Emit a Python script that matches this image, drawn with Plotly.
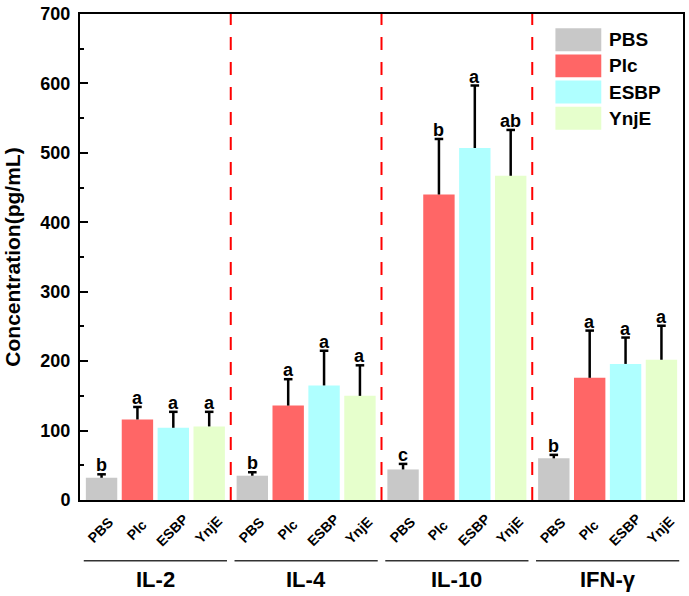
import plotly.graph_objects as go

groups = ["IL-2", "IL-4", "IL-10", "IFN-γ"]
series = ["PBS", "Plc", "ESBP", "YnjE"]
colors = ["#C8C8C8", "#FF6666", "#AFFFFF", "#E6FFCC"]

pbs = [32, 35, 44, 60]
plc = [116, 136, 440, 176]
esbp = [104, 165, 507, 196]
ynje = [106, 150, 467, 202]

pbs_err = [5, 5, 8, 5]
plc_err = [18, 38, 80, 68]
esbp_err = [23, 50, 90, 38]
ynje_err = [21, 44, 66, 49]

pbs_sig = ["b", "b", "c", "b"]
plc_sig = ["a", "a", "b", "a"]
esbp_sig = ["a", "a", "a", "a"]
ynje_sig = ["a", "a", "ab", "a"]

values = [pbs, plc, esbp, ynje]
errors = [pbs_err, plc_err, esbp_err, ynje_err]
sigs = [pbs_sig, plc_sig, esbp_sig, ynje_sig]

FONT = "Arial, 'Liberation Sans', sans-serif"
BARGAP = 0.048
BARGROUPGAP = 0.125
slot = (1 - BARGAP) / len(series)

# pixel geometry of the plot area
W, H = 689, 596
ML, MR, MT, MB = 80, 4, 13, 96
PW = W - ML - MR
PH = H - MT - MB
X_RANGE = [-0.5, 3.5]
CAP = 4.3 * (X_RANGE[1] - X_RANGE[0]) / PW  # half cap width in data units


def px_x(px):
    return (px - ML) / PW


def px_y(py):
    return (H - MB - py) / PH


gx = list(range(len(groups)))

fig = go.Figure()
for j, name in enumerate(series):
    fig.add_trace(go.Bar(
        x=gx, y=values[j], name=name,
        marker=dict(color=colors[j], line=dict(width=0)),
        showlegend=False,
    ))

# upper-only error bars (T shaped)
ex, ey = [], []
for j in range(len(series)):
    for g in gx:
        xc = g + (j - 1.5) * slot
        top = values[j][g] + errors[j][g]
        ex += [xc, xc, None, xc - CAP, xc + CAP, None]
        ey += [values[j][g], top, None, top, top, None]
fig.add_trace(go.Scatter(x=ex, y=ey, mode="lines", line=dict(color="black", width=2.5),
                         hoverinfo="skip", showlegend=False, cliponaxis=False))

annotations = []
shapes = []
for j, name in enumerate(series):
    for g in gx:
        xc = g + (j - 1.5) * slot
        annotations.append(dict(
            x=xc, y=values[j][g] + errors[j][g], xref="x", yref="y",
            text=f"<b>{sigs[j][g]}</b>", showarrow=False, yanchor="bottom",
            yshift=-3, font=dict(family=FONT, size=18, color="black")))
        annotations.append(dict(
            x=xc, y=px_y(530), xref="x", yref="paper", xshift=-1,
            text=f"<b>{name}</b>", showarrow=False, textangle=-45,
            xanchor="center", yanchor="middle",
            font=dict(family=FONT, size=14, color="black")))

for g, gname in enumerate(groups):
    shapes.append(dict(type="line", xref="x", yref="paper",
                       x0=g - 0.475, x1=g + 0.475, y0=px_y(561), y1=px_y(561),
                       line=dict(color="#333333", width=1.5)))
    annotations.append(dict(x=g, y=px_y(580), xref="x", yref="paper",
                            text=f"<b>{gname}</b>", showarrow=False,
                            xanchor="center", yanchor="middle",
                            font=dict(family=FONT, size=22, color="black")))

for g in gx[:-1]:
    shapes.append(dict(type="line", xref="x", yref="y", x0=g + 0.5, x1=g + 0.5,
                       y0=0, y1=700, line=dict(color="#FF0000", width=2, dash="13px,12px")))

# manual legend
for j, name in enumerate(series):
    top = 27.3 + j * 26.2
    shapes.append(dict(type="rect", xref="paper", yref="paper",
                       x0=px_x(557), x1=px_x(603), y0=px_y(top + 23), y1=px_y(top),
                       fillcolor=colors[j], line=dict(width=0)))
    annotations.append(dict(x=px_x(609), y=px_y(top + 11.5), xref="paper", yref="paper",
                            text=f"<b>{name}</b>", showarrow=False, xanchor="left",
                            yanchor="middle", font=dict(family=FONT, size=19, color="black")))

fig.update_layout(
    width=W, height=H,
    margin=dict(l=ML, r=MR, t=MT, b=MB, pad=0),
    paper_bgcolor="white", plot_bgcolor="white",
    barmode="group", bargap=BARGAP, bargroupgap=BARGROUPGAP,
    annotations=annotations, shapes=shapes,
    font=dict(family=FONT, color="black"),
    xaxis=dict(range=X_RANGE, showticklabels=False, ticks="", showgrid=False,
               zeroline=False, showline=True, linecolor="black", linewidth=2, mirror=True),
    yaxis=dict(range=[0, 700], dtick=100, ticks="inside", ticklen=8, tickwidth=2,
               tickcolor="black", showgrid=False, zeroline=False,
               showline=True, linecolor="black", linewidth=2, mirror=True,
               tickfont=dict(family=FONT, size=18, color="black"),
               tickprefix="<b>", ticksuffix="</b>", ticklabelstandoff=4,
               minor=dict(dtick=50, ticks="inside", ticklen=4, tickwidth=2, tickcolor="black"),
               title=dict(text="<b>Concentration(pg/mL)</b>",
                          font=dict(family=FONT, size=21, color="black"), standoff=14)),
)

fig.write_html("out.html")
